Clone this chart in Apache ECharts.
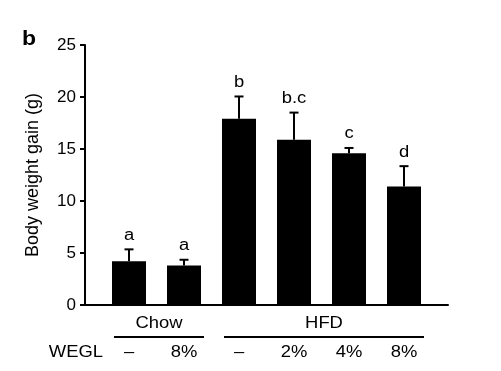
<!DOCTYPE html>
<html>
<head>
<meta charset="utf-8">
<script src="https://cdn.jsdelivr.net/npm/echarts@6/dist/echarts.min.js"></script>
<style>
html,body{margin:0;padding:0;background:#fff;}
#chart{width:501px;height:371px;}
</style>
</head>
<body>
<div id="chart"></div>
<script>
// ---- data ----
const doseLabels = ['–', '8%', '–', '2%', '4%', '8%'];
const means = [4.2, 3.8, 17.9, 15.9, 14.6, 11.4];
const errUpper = [1.15, 0.55, 2.15, 2.6, 0.5, 1.95];
const sigLetters = ['a', 'a', 'b', 'b.c', 'c', 'd'];
const groupNames = ['Chow', 'HFD'];
const groupStart = [0, 2];
const groupEnd = [1, 5];
const yTicks = [0, 5, 10, 15, 20, 25];
const rowLabel = 'WEGL';
const yTitle = 'Body weight gain (g)';
const panelLabel = 'b';

const FONT = '"Liberation Sans", Arial, Helvetica, sans-serif';
const SX = 1.15;

const chart = echarts.init(document.getElementById('chart'), null, {renderer: 'canvas'});

const barData = means.map((v, i) => [i, v]);
const errData = means.map((v, i) => [i, v, v + errUpper[i], i]);
const doseData = doseLabels.map((d, i) => [i, 0, i]);
const groupData = groupNames.map((g, k) => [groupStart[k], groupEnd[k], k]);

function txt(x, y, s, align, va) {
  return {type: 'text', x: x, y: y, scaleX: SX,
    style: {text: s, font: '16px ' + FONT, fill: '#000', align: align || 'center', verticalAlign: va || 'middle'}};
}

const option = {
  animation: false,
  backgroundColor: '#fff',
  grid: {left: 85, right: 53, top: 45, bottom: 66, containLabel: false},
  xAxis: {
    type: 'value', min: -0.8, max: 5.8,
    axisLine: {show: true, onZero: false, lineStyle: {color: '#000', width: 2}},
    axisTick: {show: false}, axisLabel: {show: false}, splitLine: {show: false}
  },
  yAxis: {
    type: 'value', min: yTicks[0], max: yTicks[yTicks.length - 1], interval: 5,
    name: yTitle, nameLocation: 'middle', nameGap: 43, nameRotate: 90,
    nameTextStyle: {fontFamily: FONT, fontSize: 18, color: '#000'},
    axisLine: {show: true, onZero: false, lineStyle: {color: '#000', width: 2}},
    axisTick: {show: true, inside: false, length: 5, lineStyle: {color: '#000', width: 2}},
    axisLabel: {fontFamily: FONT, fontSize: 17, color: '#000', margin: 9},
    splitLine: {show: false}
  },
  graphic: [{
    type: 'text', left: 22, top: 29, scaleX: 1.15,
    style: {text: panelLabel, font: 'bold 20px ' + FONT, fill: '#000'}
  }],
  series: [
    {
      type: 'bar', data: barData, barWidth: 34,
      itemStyle: {color: '#000'}, silent: true
    },
    {
      type: 'custom', data: errData, encode: {x: 0, y: [1, 2]},
      renderItem: function (params, api) {
        const i = api.value(0);
        const p0 = api.coord([i, api.value(1)]);
        const p1 = api.coord([i, api.value(2)]);
        const idx = api.value(3);
        return {
          type: 'group',
          children: [
            {type: 'line', shape: {x1: p0[0], y1: p0[1], x2: p1[0], y2: p1[1]}, style: {stroke: '#000', lineWidth: 2}},
            {type: 'line', shape: {x1: p1[0] - 4.5, y1: p1[1], x2: p1[0] + 4.5, y2: p1[1]}, style: {stroke: '#000', lineWidth: 2}},
            txt(p1[0], p1[1] - 6, sigLetters[idx], 'center', 'bottom')
          ]
        };
      }
    },
    {
      type: 'custom', data: doseData, encode: {x: 0, y: 1},
      renderItem: function (params, api) {
        const i = api.value(0);
        const p = api.coord([i, 0]);
        const children = [txt(p[0], p[1] + 48, doseLabels[api.value(2)])];
        if (api.value(2) === 0) {
          children.push(txt(103, p[1] + 48, rowLabel, 'right'));
        }
        return {type: 'group', children: children};
      }
    },
    {
      type: 'custom', data: groupData, encode: {x: [0, 1]},
      renderItem: function (params, api) {
        const a = api.coord([api.value(0), 0]);
        const b = api.coord([api.value(1), 0]);
        const k = api.value(2);
        const x1 = a[0] - 15, x2 = b[0] + 20;
        return {
          type: 'group',
          children: [
            {type: 'line', shape: {x1: x1, y1: a[1] + 32, x2: x2, y2: a[1] + 32}, style: {stroke: '#000', lineWidth: 2}},
            txt((x1 + x2) / 2, a[1] + 19, groupNames[k])
          ]
        };
      }
    }
  ]
};
chart.setOption(option);
</script>
</body>
</html>
